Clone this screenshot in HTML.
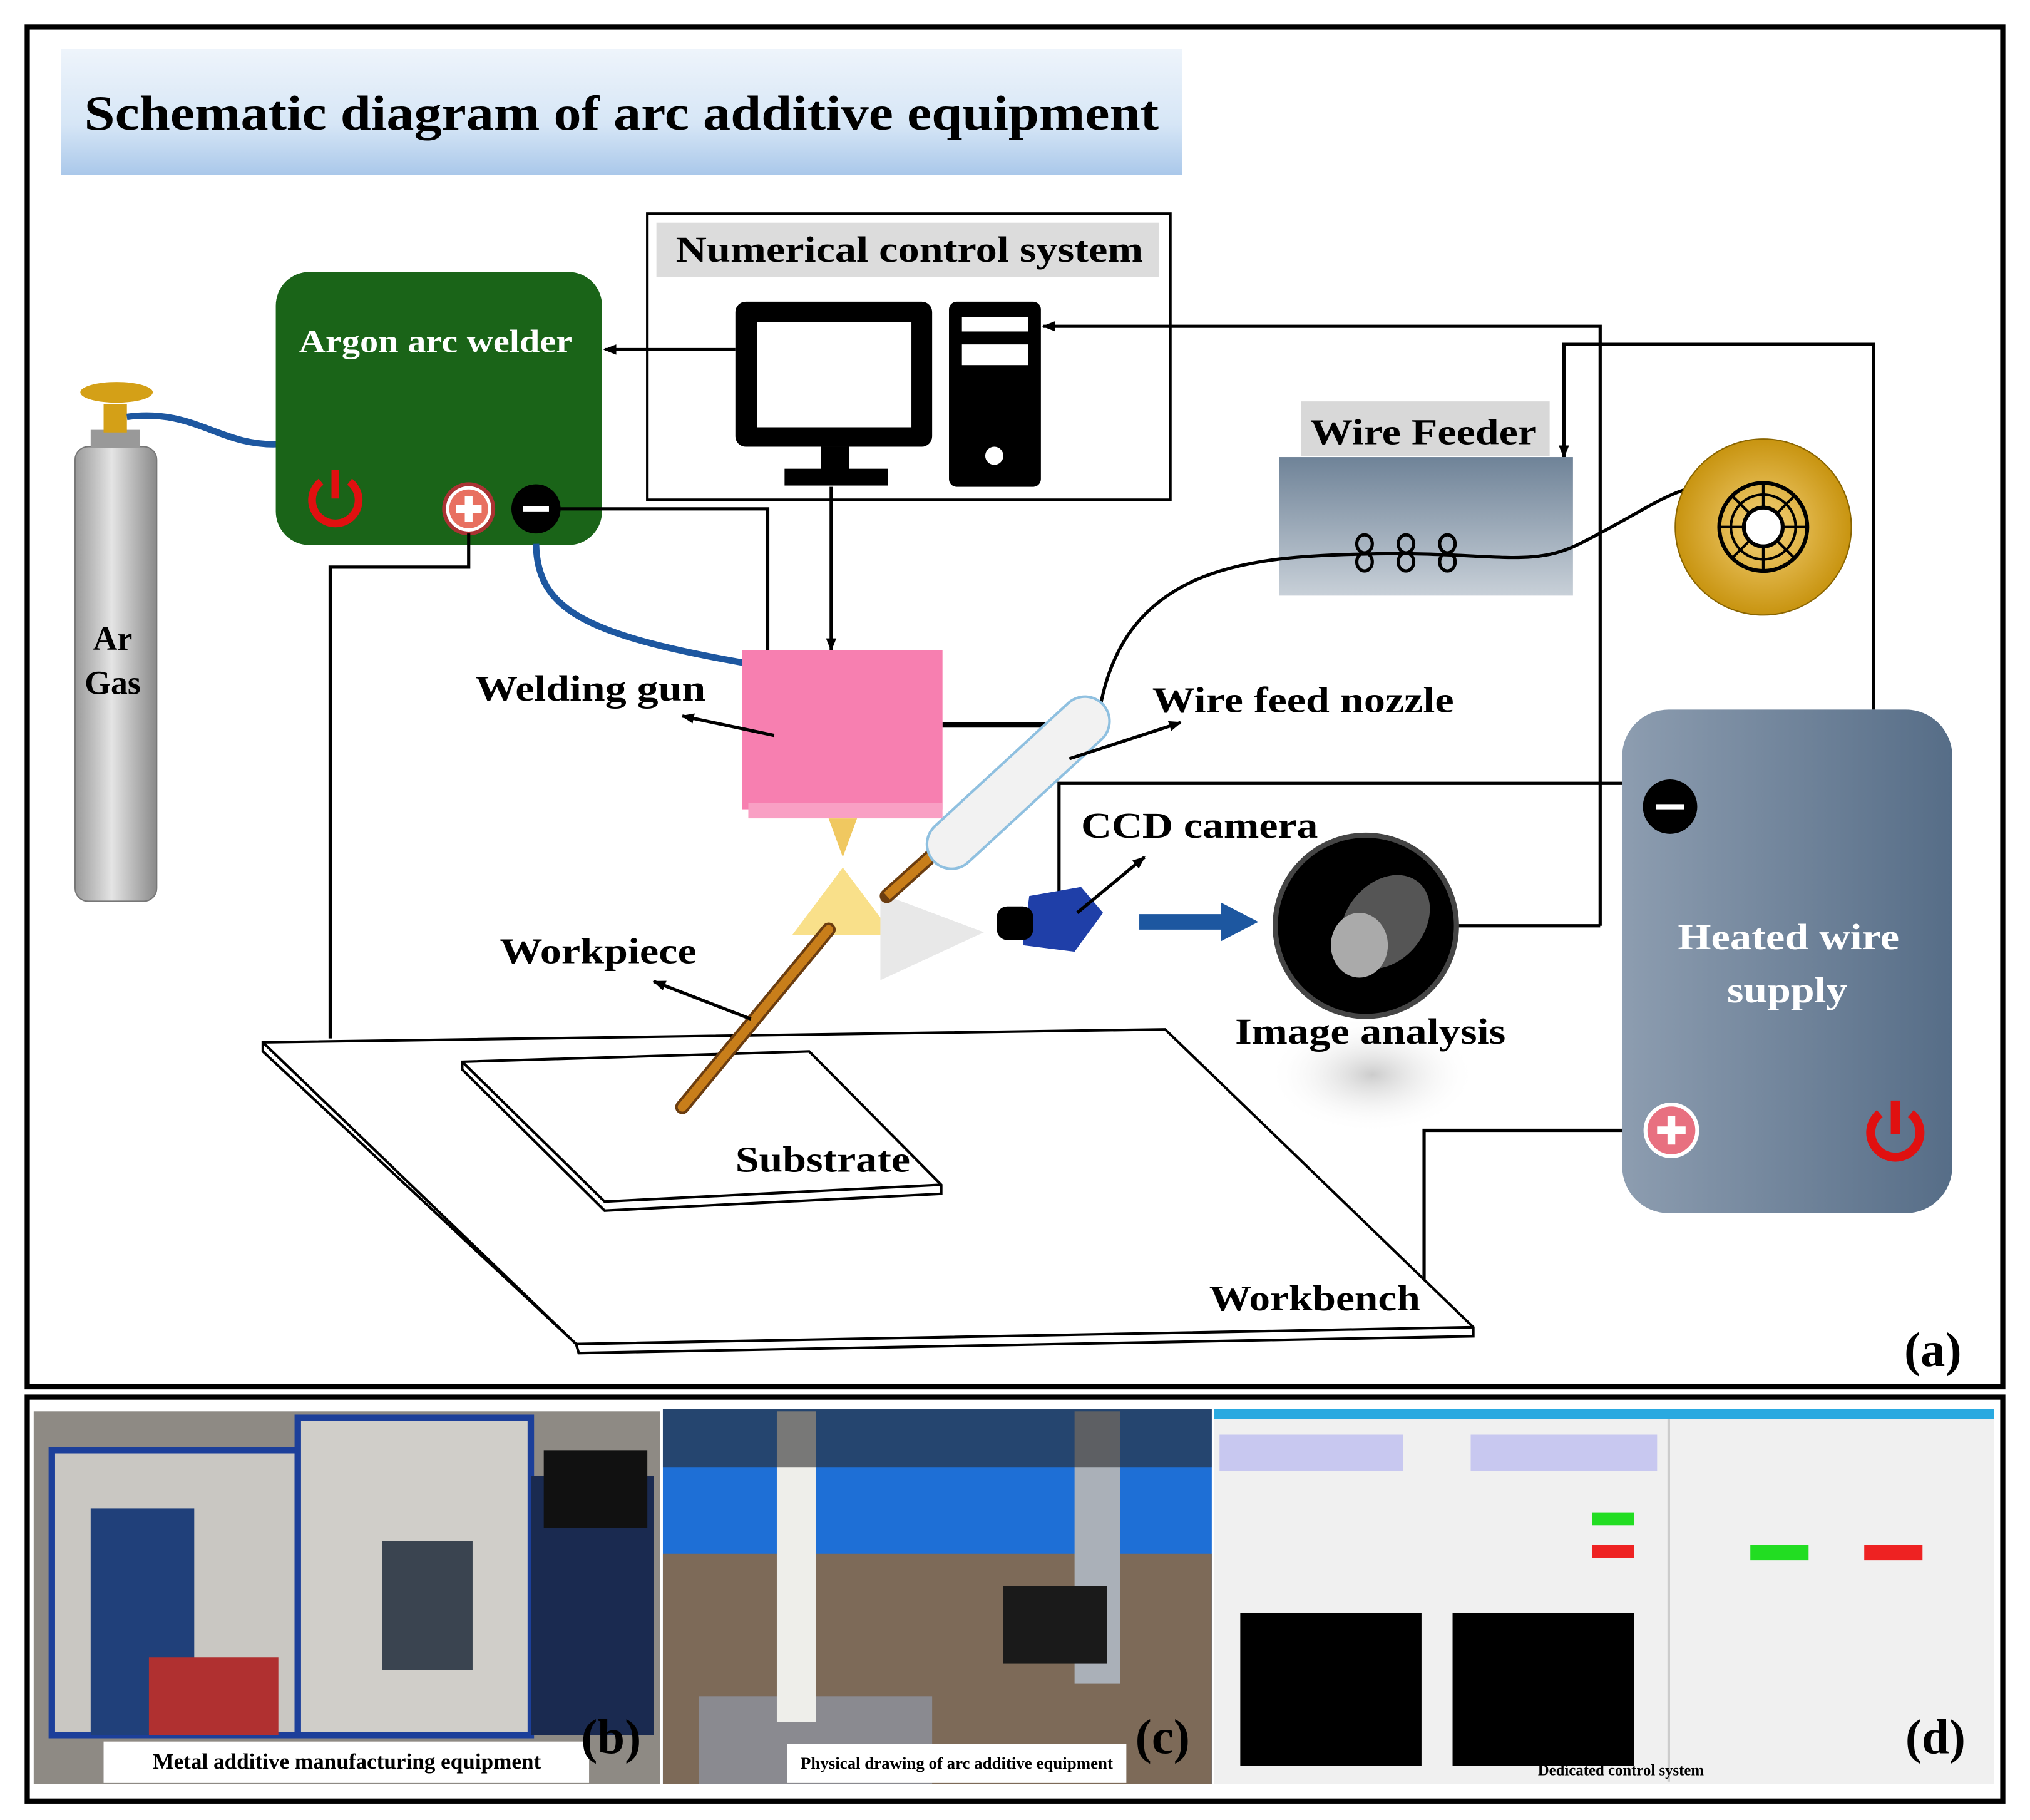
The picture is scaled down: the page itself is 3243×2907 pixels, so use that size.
<!DOCTYPE html>
<html><head><style>
html,body{margin:0;padding:0;background:#fff;}
svg{display:block;}
text{font-family:"Liberation Serif",serif;font-weight:bold;}
</style></head><body>
<svg width="3243" height="2907" viewBox="0 0 1568 1405.6" xmlns="http://www.w3.org/2000/svg">
<defs>
<linearGradient id="tg" x1="0" y1="0" x2="0" y2="1"><stop offset="0" stop-color="#eef4fb"/><stop offset="0.6" stop-color="#d6e6f6"/><stop offset="1" stop-color="#aac8ea"/></linearGradient>
<linearGradient id="cyl" x1="0" y1="0" x2="1" y2="0"><stop offset="0" stop-color="#9a9a9a"/><stop offset="0.45" stop-color="#e4e4e4"/><stop offset="1" stop-color="#8a8a8a"/></linearGradient>
<linearGradient id="wf" x1="0" y1="0" x2="0" y2="1"><stop offset="0" stop-color="#6f8398"/><stop offset="1" stop-color="#c8d0d8"/></linearGradient>
<linearGradient id="hw" x1="0" y1="0" x2="1" y2="0"><stop offset="0" stop-color="#8d9db0"/><stop offset="1" stop-color="#566d87"/></linearGradient>
<radialGradient id="sp"><stop offset="0" stop-color="#f5d27a"/><stop offset="1" stop-color="#c89410"/></radialGradient>
<radialGradient id="sh"><stop offset="0" stop-color="#ccc"/><stop offset="1" stop-color="#fff" stop-opacity="0"/></radialGradient>
<marker id="ar" markerWidth="10" markerHeight="10" refX="9" refY="5" orient="auto" markerUnits="userSpaceOnUse"><path d="M0,1 L10,5 L0,9 Z" fill="#000"/></marker>
</defs>
<rect x="21" y="21" width="1526" height="1050" fill="#fff" stroke="#000" stroke-width="4"/>
<rect x="21" y="1079" width="1526" height="312" fill="#fff" stroke="#000" stroke-width="4"/>
<rect x="47" y="38" width="866" height="97" fill="url(#tg)"/>
<text x="65" y="100" font-size="38" textLength="830" lengthAdjust="spacingAndGlyphs">Schematic diagram of arc additive equipment</text>
<rect x="500" y="165" width="404" height="221" fill="#fff" stroke="#000" stroke-width="2"/>
<rect x="507" y="172" width="388" height="42" fill="#dcdcdc"/>
<text x="522" y="202" font-size="28" textLength="361" lengthAdjust="spacingAndGlyphs">Numerical control system</text>
<rect x="568" y="233" width="152" height="112" rx="8" fill="#000"/>
<rect x="585" y="249" width="119" height="81" fill="#fff"/>
<rect x="634" y="345" width="22" height="18" fill="#000"/>
<rect x="606" y="362" width="80" height="13" fill="#000"/>
<rect x="733" y="233" width="71" height="143" rx="6" fill="#000"/>
<rect x="743" y="245" width="51" height="11" fill="#fff"/>
<rect x="743" y="266" width="51" height="16" fill="#fff"/>
<circle cx="768" cy="352" r="7" fill="#fff"/>
<rect x="58" y="345" width="63" height="351" rx="10" fill="url(#cyl)" stroke="#777"/>
<rect x="70" y="332" width="38" height="14" fill="#999"/>
<rect x="80" y="312" width="18" height="22" fill="#d4a017"/>
<ellipse cx="90" cy="303" rx="28" ry="8" fill="#d4a017"/>
<text x="87" y="502" font-size="26" text-anchor="middle">Ar</text>
<text x="87" y="536" font-size="26" text-anchor="middle">Gas</text>
<path d="M98,322 C150,315 170,345 215,343" fill="none" stroke="#1d57a0" stroke-width="5"/>
<rect x="213" y="210" width="252" height="211" rx="26" fill="#1a6418"/>
<text x="231" y="272" font-size="25" fill="#fff" textLength="211" lengthAdjust="spacingAndGlyphs">Argon arc welder</text>
<path d="M248,372 A18,18 0 1 0 270,372" fill="none" stroke="#e01010" stroke-width="6"/>
<line x1="259" y1="363" x2="259" y2="385" stroke="#e01010" stroke-width="6"/>
<circle cx="362" cy="393" r="19" fill="#fff" stroke="#a33" stroke-width="3"/>
<circle cx="362" cy="393" r="15" fill="#e87060"/>
<path d="M362,383 v20 M352,393 h20" stroke="#fff" stroke-width="6"/>
<circle cx="414" cy="393" r="19" fill="#000"/>
<line x1="404" y1="393" x2="424" y2="393" stroke="#fff" stroke-width="4"/>
<path d="M414,420 C415,470 450,490 575,512" fill="none" stroke="#1d57a0" stroke-width="5"/>
<line x1="568" y1="270" x2="467" y2="270" stroke="#000" stroke-width="2.5" marker-end="url(#ar)"/>
<line x1="642" y1="376" x2="642" y2="502" stroke="#000" stroke-width="2.5" marker-end="url(#ar)"/>
<polyline points="432,393 593,393 593,502" fill="none" stroke="#000" stroke-width="2.5"/>
<polyline points="362,412 362,438 255,438 255,802" fill="none" stroke="#000" stroke-width="2.5"/>
<polyline points="1236,715 1236,252 806,252" fill="none" stroke="#000" stroke-width="2.5" marker-end="url(#ar)"/>
<polyline points="1447,548 1447,266 1208,266 1208,353" fill="none" stroke="#000" stroke-width="2.5" marker-end="url(#ar)"/>
<line x1="1125" y1="715" x2="1236" y2="715" stroke="#000" stroke-width="2.5"/>
<polyline points="818,690 818,605 1290,605" fill="none" stroke="#000" stroke-width="2.5"/>
<polyline points="1275,873 1100,873 1100,988" fill="none" stroke="#000" stroke-width="2.5"/>
<line x1="728" y1="560" x2="812" y2="560" stroke="#000" stroke-width="4"/>
<rect x="1005" y="310" width="192" height="42" fill="#d8d8d8"/>
<text x="1012" y="343" font-size="28" textLength="175" lengthAdjust="spacingAndGlyphs">Wire Feeder</text>
<rect x="988" y="353" width="227" height="107" fill="url(#wf)"/>
<path d="M850,545 C870,440 960,430 1050,428 C1150,425 1180,440 1220,420 C1260,400 1280,385 1302,378" fill="none" stroke="#000" stroke-width="2.5"/>
<g fill="none" stroke="#000" stroke-width="2.5">
<ellipse cx="1054" cy="420" rx="6" ry="7"/><ellipse cx="1054" cy="434" rx="6" ry="7"/>
<ellipse cx="1086" cy="420" rx="6" ry="7"/><ellipse cx="1086" cy="434" rx="6" ry="7"/>
<ellipse cx="1118" cy="420" rx="6" ry="7"/><ellipse cx="1118" cy="434" rx="6" ry="7"/>
</g>
<circle cx="1362" cy="407" r="68" fill="url(#sp)" stroke="#8a6500"/>
<circle cx="1362" cy="407" r="34" fill="none" stroke="#000" stroke-width="3"/>
<circle cx="1362" cy="407" r="25" fill="none" stroke="#000" stroke-width="2"/>
<circle cx="1362" cy="407" r="15" fill="#fff" stroke="#000" stroke-width="3"/>
<g stroke="#000" stroke-width="2"><line x1="1362" y1="373" x2="1362" y2="392"/><line x1="1362" y1="422" x2="1362" y2="441"/><line x1="1328" y1="407" x2="1347" y2="407"/><line x1="1377" y1="407" x2="1396" y2="407"/><line x1="1338" y1="383" x2="1351" y2="396"/><line x1="1373" y1="418" x2="1386" y2="431"/><line x1="1386" y1="383" x2="1373" y2="396"/><line x1="1351" y1="418" x2="1338" y2="431"/></g>
<rect x="1253" y="548" width="255" height="389" rx="36" fill="url(#hw)"/>
<text x="1296" y="733" font-size="28" fill="#fff" textLength="171" lengthAdjust="spacingAndGlyphs">Heated wire</text>
<text x="1334" y="774" font-size="28" fill="#fff" textLength="93" lengthAdjust="spacingAndGlyphs">supply</text>
<circle cx="1290" cy="623" r="21" fill="#000"/>
<line x1="1279" y1="623" x2="1301" y2="623" stroke="#fff" stroke-width="4"/>
<circle cx="1291" cy="873" r="20" fill="#e87080" stroke="#fff" stroke-width="3"/>
<path d="M1291,862 v22 M1280,873 h22" stroke="#fff" stroke-width="6"/>
<path d="M1452,860 A19,19 0 1 0 1476,860" fill="none" stroke="#e01010" stroke-width="7"/>
<line x1="1464" y1="850" x2="1464" y2="876" stroke="#e01010" stroke-width="7"/>
<polygon points="203,805 900,795 1138,1025 1138,1032 447,1045 445,1038 203,812" fill="#fff" stroke="#000" stroke-width="2"/>
<polyline points="203,805 445,1038 1138,1025" fill="none" stroke="#000" stroke-width="2"/>
<text x="934" y="1012" font-size="28" textLength="163" lengthAdjust="spacingAndGlyphs">Workbench</text>
<polygon points="357,820 625,812 727,915 727,922 467,935 357,826" fill="#fff" stroke="#000" stroke-width="2"/>
<polyline points="357,820 467,928 727,915" fill="none" stroke="#000" stroke-width="2"/>
<text x="568" y="905" font-size="28" textLength="135" lengthAdjust="spacingAndGlyphs">Substrate</text>
<ellipse cx="1060" cy="830" rx="80" ry="45" fill="url(#sh)"/>
<rect x="573" y="502" width="155" height="123" fill="#f77fb0"/>
<rect x="578" y="620" width="150" height="12" fill="#f9a0c4"/>
<polygon points="640,632 662,632 651,662" fill="#f0c860"/>
<polygon points="651,670 612,722 690,722" fill="#f9e08a"/>
<polygon points="680,690 760,720 680,757" fill="#e8e8e8"/>
<line x1="640" y1="718" x2="527" y2="855" stroke="#6b3d10" stroke-width="11" stroke-linecap="round"/>
<line x1="640" y1="718" x2="527" y2="855" stroke="#c87e1a" stroke-width="7" stroke-linecap="round"/>
<line x1="725" y1="656" x2="685" y2="692" stroke="#6b3d10" stroke-width="11" stroke-linecap="round"/>
<line x1="725" y1="656" x2="685" y2="692" stroke="#c87e1a" stroke-width="7"/>
<line x1="838" y1="557" x2="735" y2="652" stroke="#8fc0e0" stroke-width="40" stroke-linecap="round"/>
<line x1="838" y1="557" x2="735" y2="652" stroke="#f2f2f2" stroke-width="36" stroke-linecap="round"/>
<polygon points="795,692 835,685 852,705 830,735 790,730" fill="#1f3fa8"/>
<rect x="770" y="700" width="28" height="26" rx="8" fill="#000"/>
<path d="M880,712 h65" stroke="#1d57a0" stroke-width="12"/>
<polygon points="943,697 972,712 943,727" fill="#1d57a0"/>
<circle cx="1055" cy="715" r="70" fill="#000" stroke="#444" stroke-width="4"/>
<ellipse cx="1070" cy="712" rx="30" ry="40" fill="#555" transform="rotate(40 1070 712)"/>
<ellipse cx="1050" cy="730" rx="22" ry="25" fill="#aaa"/>
<text x="367" y="541" font-size="28" textLength="178" lengthAdjust="spacingAndGlyphs">Welding gun</text>
<line x1="598" y1="568" x2="527" y2="553" stroke="#000" stroke-width="2.5" marker-end="url(#ar)"/>
<text x="890" y="550" font-size="28" textLength="233" lengthAdjust="spacingAndGlyphs">Wire feed nozzle</text>
<line x1="826" y1="586" x2="912" y2="558" stroke="#000" stroke-width="2.5" marker-end="url(#ar)"/>
<text x="835" y="647" font-size="28" textLength="183" lengthAdjust="spacingAndGlyphs">CCD camera</text>
<line x1="832" y1="705" x2="884" y2="662" stroke="#000" stroke-width="2.5" marker-end="url(#ar)"/>
<text x="386" y="744" font-size="28" textLength="152" lengthAdjust="spacingAndGlyphs">Workpiece</text>
<line x1="580" y1="787" x2="505" y2="758" stroke="#000" stroke-width="2.5" marker-end="url(#ar)"/>
<text x="954" y="806" font-size="28" textLength="209" lengthAdjust="spacingAndGlyphs">Image analysis</text>
<text x="1493" y="1055" font-size="38" text-anchor="middle">(a)</text>
<rect x="26" y="1090" width="484" height="288" fill="#8e8a84"/>
<rect x="40" y="1120" width="190" height="220" fill="#c9c7c2" stroke="#1c3f9a" stroke-width="5"/>
<rect x="230" y="1095" width="180" height="245" fill="#d0cec9" stroke="#1c3f9a" stroke-width="5"/>
<rect x="70" y="1165" width="80" height="175" fill="#20407a"/>
<rect x="295" y="1190" width="70" height="100" fill="#3a4450"/>
<rect x="410" y="1140" width="95" height="200" fill="#1a2a50"/>
<rect x="420" y="1120" width="80" height="60" fill="#111"/>
<rect x="115" y="1280" width="100" height="60" fill="#b03030"/>
<rect x="80" y="1345" width="375" height="32" fill="#fff"/>
<text x="268" y="1366" font-size="17" text-anchor="middle">Metal additive manufacturing equipment</text>
<text x="472" y="1354" font-size="38" text-anchor="middle">(b)</text>
<rect x="512" y="1088" width="424" height="290" fill="#1e6fd6"/>
<rect x="512" y="1200" width="424" height="178" fill="#7d6a58"/>
<rect x="540" y="1310" width="180" height="68" fill="#8a8a90"/>
<rect x="600" y="1090" width="30" height="240" fill="#eeeeea"/>
<rect x="830" y="1090" width="35" height="210" fill="#aab0b8"/>
<rect x="775" y="1225" width="80" height="60" fill="#1a1a1a"/>
<rect x="512" y="1088" width="424" height="45" fill="#2a2a2a" opacity="0.6"/>
<rect x="608" y="1347" width="262" height="30" fill="#fff"/>
<text x="739" y="1366" font-size="13" text-anchor="middle">Physical drawing of arc additive equipment</text>
<text x="898" y="1354" font-size="38" text-anchor="middle">(c)</text>
<rect x="938" y="1088" width="602" height="290" fill="#f0f0f0"/>
<rect x="938" y="1088" width="602" height="8" fill="#2aa9e0"/>
<rect x="942" y="1108" width="142" height="28" fill="#c8c8f0"/>
<rect x="1136" y="1108" width="144" height="28" fill="#c8c8f0"/>
<rect x="1230" y="1168" width="32" height="10" fill="#22dd22"/>
<rect x="1230" y="1193" width="32" height="10" fill="#ee2222"/>
<rect x="1352" y="1193" width="45" height="12" fill="#22dd22"/>
<rect x="1440" y="1193" width="45" height="12" fill="#ee2222"/>
<rect x="1288" y="1096" width="2" height="280" fill="#ccc"/>
<rect x="958" y="1246" width="140" height="118" fill="#000"/>
<rect x="1122" y="1246" width="140" height="118" fill="#000"/>
<text x="1252" y="1371" font-size="12" text-anchor="middle">Dedicated control system</text>
<text x="1495" y="1354" font-size="38" text-anchor="middle">(d)</text>
</svg>
</body></html>
